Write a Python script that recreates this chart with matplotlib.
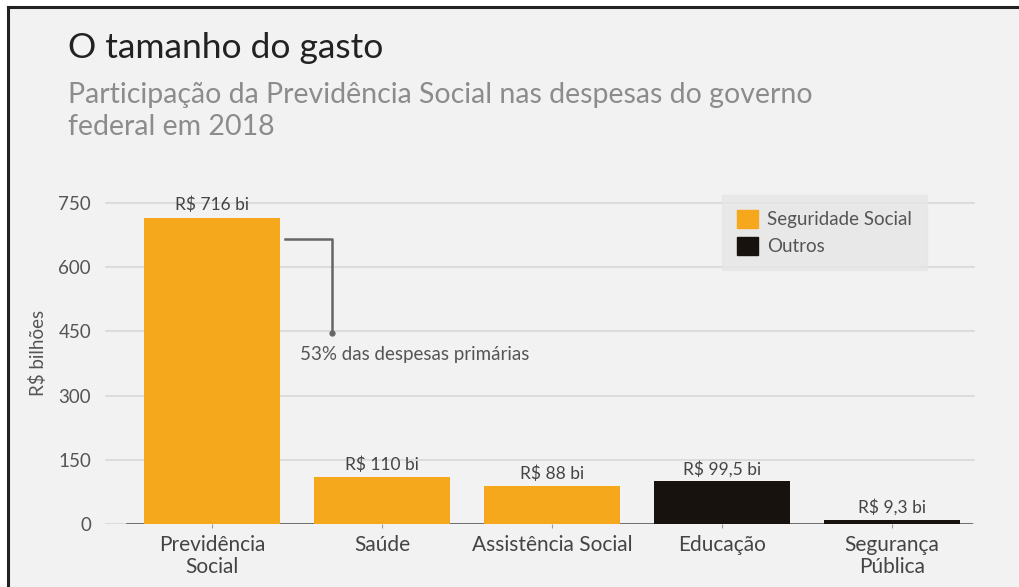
import matplotlib.pyplot as plt
from matplotlib.patches import Rectangle, Patch
from matplotlib.lines import Line2D

plt.rcParams['font.family'] = ['Lato', 'DejaVu Sans']

categories = ['Previdência\nSocial', 'Saúde', 'Assistência Social', 'Educação', 'Segurança\nPública']
values = [716, 110, 88, 99.5, 9.3]
labels = ['R$ 716 bi', 'R$ 110 bi', 'R$ 88 bi', 'R$ 99,5 bi', 'R$ 9,3 bi']
groups = ['Seguridade Social', 'Seguridade Social', 'Seguridade Social', 'Outros', 'Outros']
yticks = [0, 150, 300, 450, 600, 750]

colors = {'Seguridade Social': '#f6a81d', 'Outros': '#17120e'}
bg = '#f2f2f2'

fig = plt.figure(figsize=(10.19, 5.87), dpi=100, facecolor='white')
# framed panel
fig.add_artist(Rectangle((8 / 1019, 0), 1, 1 - 7 / 587, transform=fig.transFigure,
                         facecolor=bg, edgecolor='none', zorder=-10))
fig.add_artist(Line2D([8 / 1019, 1], [1 - 7 / 587] * 2, transform=fig.transFigure, color='#222', lw=2.2))
fig.add_artist(Line2D([8 / 1019] * 2, [0, 1 - 7 / 587], transform=fig.transFigure, color='#222', lw=2.2))

ax = fig.add_axes([0.103, 0.1073, 0.854, 0.5833])
ax.set_facecolor('none')

x = range(len(categories))
ax.bar(x, values, width=0.8, color=[colors[g] for g in groups], zorder=3)
for i, (v, l) in enumerate(zip(values, labels)):
    ax.text(i, v + 10, l, ha='center', va='bottom', fontsize=12.5, color='#444')

ax.set_xlim(-0.63, 4.49)
ax.set_ylim(0, 800)
ax.set_yticks(yticks)
ax.yaxis.grid(True, color='#dcdcdc', lw=1.5, zorder=0)
ax.set_xticks(list(x))
ax.set_xticklabels(categories, fontsize=15, color='#444', linespacing=1.1)
ax.tick_params(axis='x', length=3, color='#999', pad=5)
ax.tick_params(axis='y', length=0, labelsize=13.5, labelcolor='#555', pad=10)
for s in ax.spines.values():
    s.set_visible(False)
ax.axhline(0, xmin=0.025, xmax=0.995, color='#666', lw=2, zorder=2)
ax.set_ylabel('R$ bilhões', fontsize=13.5, color='#555', labelpad=8)

# annotation bracket
ax.plot([0.43, 0.706, 0.706], [666, 666, 446], color='#666', lw=1.8, zorder=4)
ax.plot([0.706], [446], 'o', color='#666', ms=3.5, zorder=4)
ax.text(0.52, 395, '53% das despesas primárias', fontsize=13.5, color='#555', va='center')

handles = [Patch(color=colors['Seguridade Social'], label='Seguridade Social'),
           Patch(color=colors['Outros'], label='Outros')]
leg = ax.legend(handles=handles, loc='upper left', bbox_to_anchor=(0.709, 0.961),
                frameon=True, fontsize=13.5, handlelength=1.1, handleheight=1.1,
                handletextpad=0.5, borderpad=0.8, labelspacing=0.45, fancybox=False,
                borderaxespad=0)
leg.get_frame().set_facecolor('#e6e6e6')
leg.get_frame().set_edgecolor('#e6e6e6')
for t in leg.get_texts():
    t.set_color('#555')

fig.text(68 / 1019, 1 - 48 / 587, 'O tamanho do gasto', fontsize=25.5, color='#222', va='center')
fig.text(68 / 1019, 1 - 111 / 587,
         'Participação da Previdência Social nas despesas do governo\nfederal em 2018',
         fontsize=20.5, color='#8c8c8c', va='center', linespacing=1.25)

plt.savefig('out.png', dpi=100, facecolor='white')
